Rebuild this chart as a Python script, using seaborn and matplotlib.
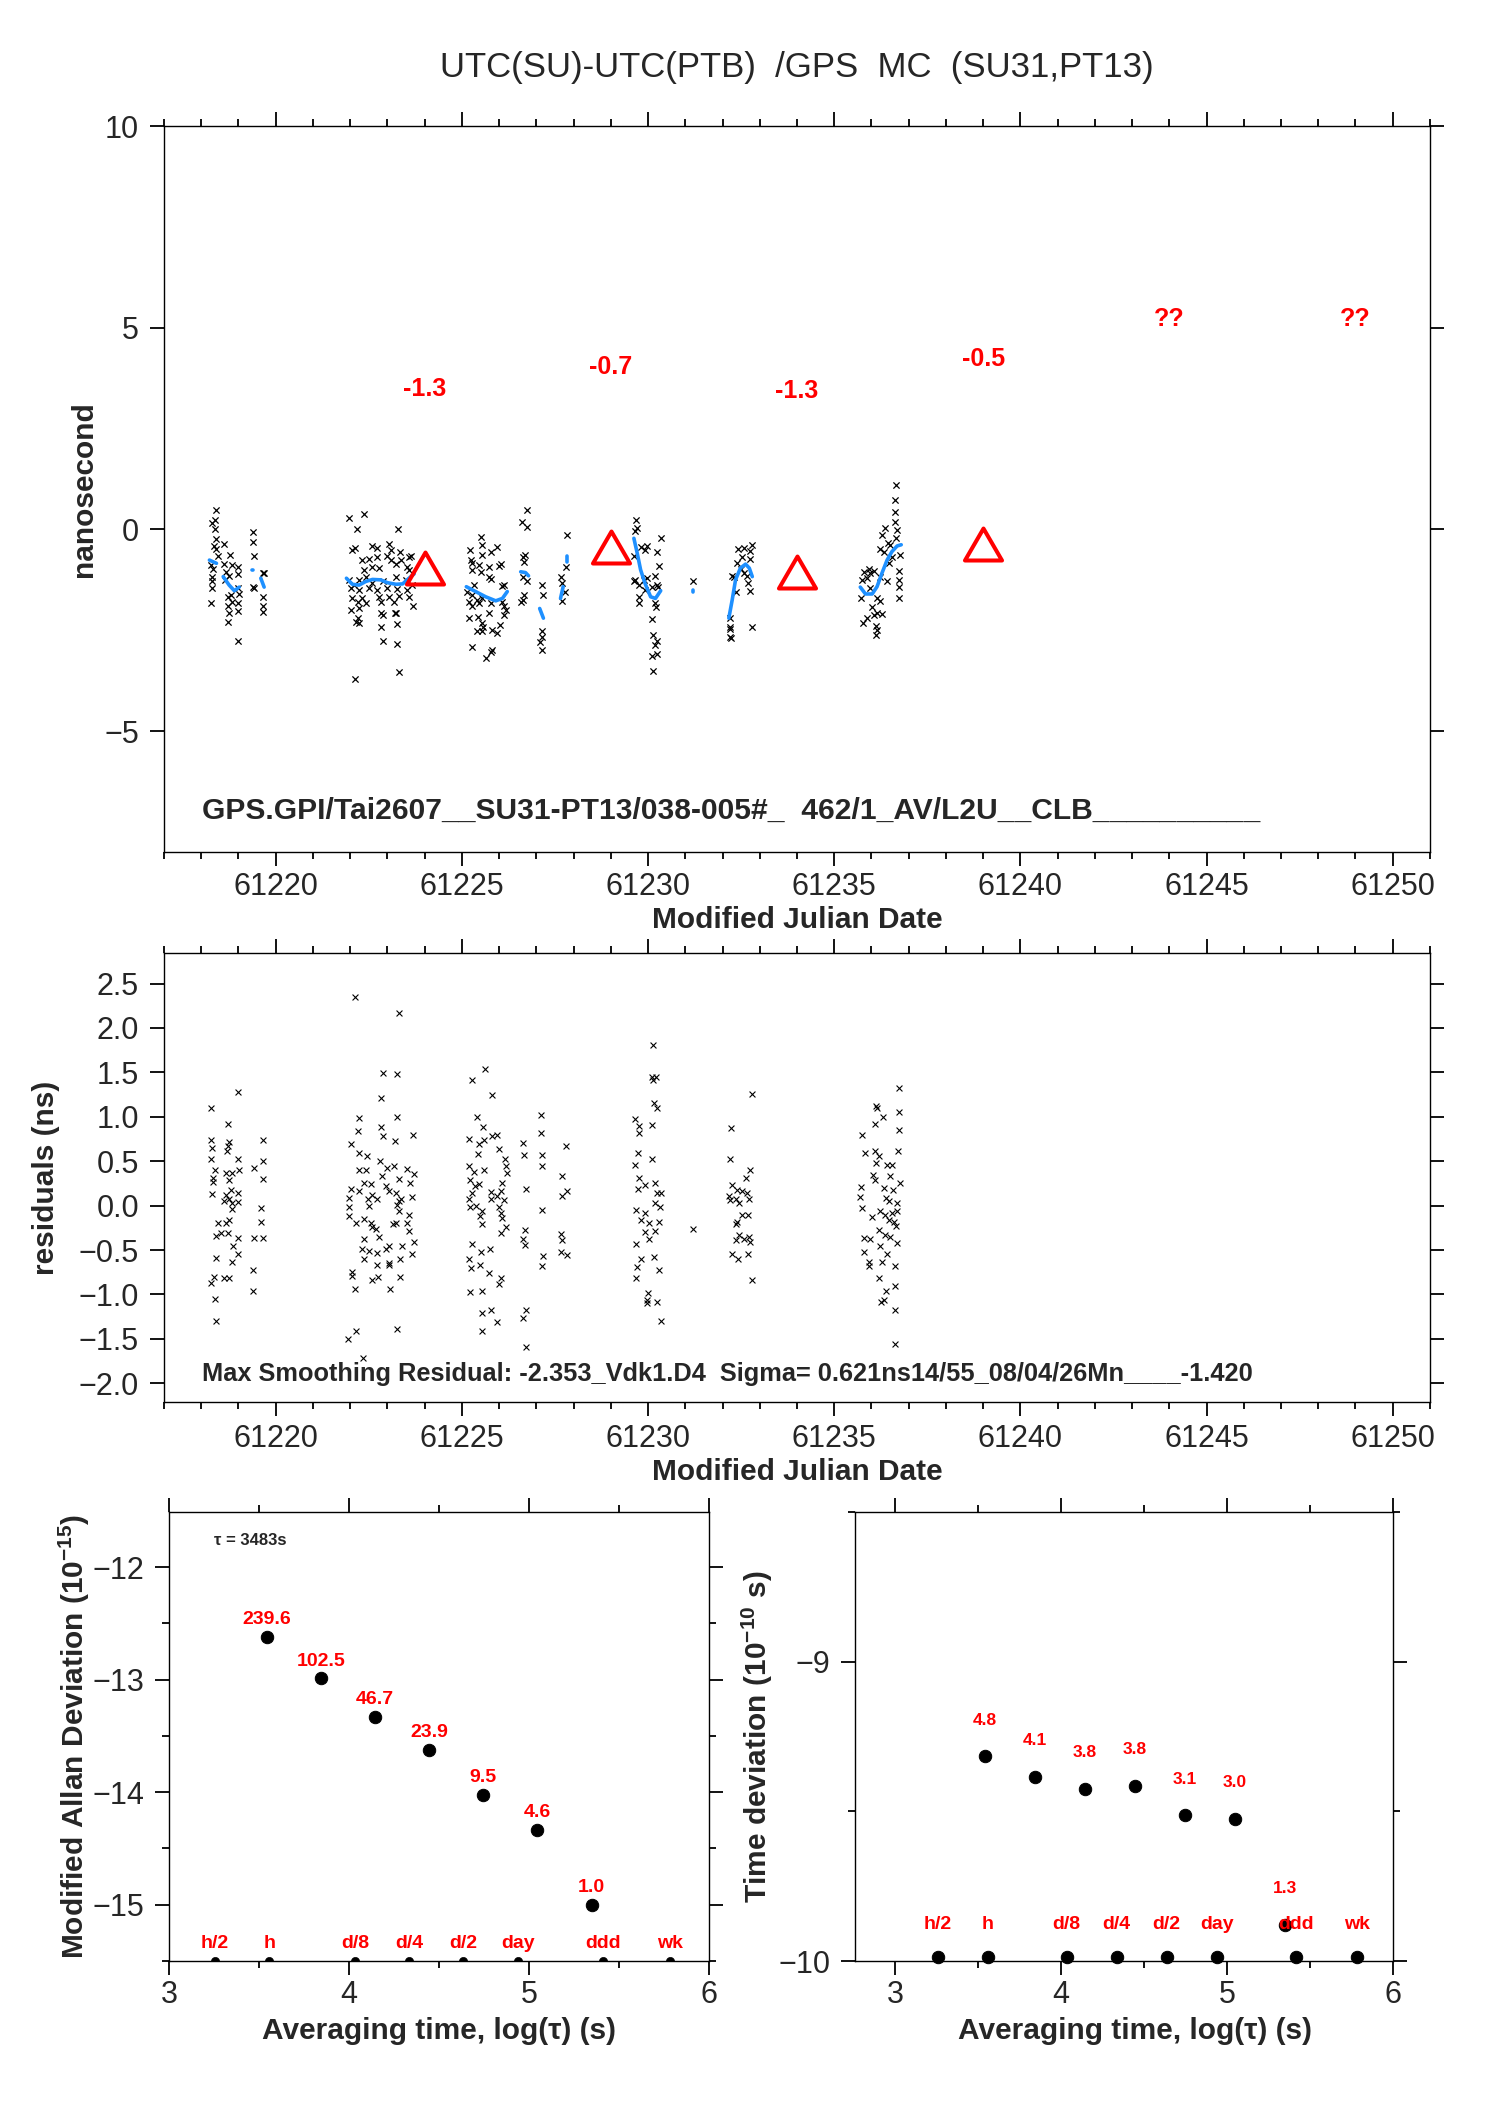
import numpy as np
import pandas as pd
import matplotlib
matplotlib.use("Agg")
import matplotlib.pyplot as plt
import seaborn as sns
from matplotlib.ticker import MultipleLocator, FuncFormatter
from matplotlib.path import Path

# ---------------------------------------------------------------- data
title_text = "UTC(SU)-UTC(PTB)  /GPS  MC  (SU31,PT13)"
info_top = "GPS.GPI/Tai2607__SU31-PT13/038-005#_  462/1_AV/L2U__CLB__________"
info_res = "Max Smoothing Residual: -2.353_Vdk1.D4  Sigma= 0.621ns14/55_08/04/26Mn____-1.420"

# observed UTC(SU)-UTC(PTB) points (MJD, ns)
obs_points = [
    (61218.40, 0.48), (61218.29, 0.15), (61218.38, 0.24), (61218.38, 0.00),
    (61218.41, -0.24), (61218.35, -0.41), (61218.40, -0.49), (61218.44, -0.66),
    (61218.26, -0.88), (61218.32, -0.99), (61218.29, -1.17), (61218.30, -1.29), (61218.29, -1.46), (61218.26, -1.83),
    (61218.62, -0.36), (61218.62, -0.86), (61218.66, -1.05), (61218.75, -1.15), (61218.65, -1.25),
    (61218.78, -0.63), (61218.84, -0.88), (61218.98, -0.94), (61219.00, -1.10),
    (61218.71, -1.67), (61218.80, -1.62), (61218.84, -1.79), (61218.71, -1.90), (61218.75, -2.08), (61218.73, -2.29),
    (61218.98, -1.83), (61219.02, -1.60), (61218.98, -2.02), (61219.00, -1.46), (61218.98, -2.77),
    (61219.40, -0.07), (61219.38, -0.30), (61219.42, -0.66), (61219.40, -1.42), (61219.42, -1.46),
    (61219.65, -1.07), (61219.69, -1.09), (61219.65, -1.67), (61219.65, -1.90), (61219.67, -2.04),
    (61221.96, 0.28), (61222.38, 0.38), (61222.18, 0.01), (61223.29, 0.02),
    (61222.06, -0.51), (61222.13, -0.47), (61222.58, -0.41), (61222.73, -0.47), (61223.05, -0.36), (61223.09, -0.52), (61223.33, -0.55), (61223.58, -0.69),
    (61222.33, -0.77), (61222.51, -0.74), (61222.73, -0.69), (61223.00, -0.66), (61223.09, -0.76), (61223.36, -0.77), (61223.63, -0.66),
    (61222.38, -1.00), (61222.60, -0.92), (61222.78, -0.96), (61223.23, -0.86), (61223.54, -0.94), (61223.58, -1.00),
    (61221.97, -1.25), (61222.11, -1.38), (61222.24, -1.25), (61222.42, -1.17), (61222.60, -1.33), (61222.87, -1.29), (61223.23, -1.17), (61223.49, -1.25), (61223.67, -1.38),
    (61222.02, -1.46), (61222.24, -1.50), (61222.51, -1.46), (61222.73, -1.50), (61223.00, -1.46), (61223.27, -1.48), (61223.54, -1.50),
    (61222.06, -1.71), (61222.33, -1.71), (61222.78, -1.67), (61223.05, -1.68), (61223.31, -1.65), (61223.58, -1.68),
    (61222.20, -1.79), (61222.42, -1.83), (61222.82, -1.79), (61223.18, -1.79),
    (61222.02, -2.00), (61222.24, -1.96), (61222.82, -2.08), (61222.87, -2.12), (61223.21, -2.06), (61223.23, -2.08), (61223.70, -1.91),
    (61222.20, -2.20), (61222.24, -2.33), (61222.15, -2.29), (61223.27, -2.34), (61222.82, -2.43),
    (61222.89, -2.76), (61223.25, -2.84), (61223.30, -3.53), (61222.13, -3.71),
    (61225.51, -0.18), (61225.53, -0.38), (61225.21, -0.51), (61225.95, -0.44), (61225.78, -0.55), (61225.55, -0.63),
    (61225.24, -0.76), (61225.28, -0.84), (61225.46, -0.88), (61225.73, -0.94), (61226.00, -0.91), (61226.04, -0.86), (61225.51, -1.05), (61225.26, -1.00),
    (61225.73, -1.19), (61225.78, -1.22), (61226.09, -1.40), (61226.13, -1.38), (61225.33, -1.38),
    (61225.15, -1.54), (61225.28, -1.62), (61225.42, -1.75), (61225.55, -1.71), (61225.18, -1.79), (61225.28, -1.91), (61225.46, -1.83),
    (61225.78, -1.83), (61226.09, -1.79), (61226.13, -1.90), (61226.18, -2.00), (61226.13, -2.12), (61225.73, -2.08),
    (61225.18, -2.20), (61225.44, -2.16), (61225.53, -2.33), (61225.57, -2.41), (61225.42, -2.53), (61225.55, -2.53), (61225.82, -2.49), (61225.94, -2.57), (61226.02, -2.37),
    (61225.28, -2.91), (61225.82, -2.99), (61225.78, -3.03), (61225.64, -3.18),
    (61226.74, 0.48), (61226.61, 0.19), (61226.74, 0.07), (61226.70, -0.63), (61226.63, -0.69), (61226.67, -0.80),
    (61226.63, -1.17), (61226.76, -1.29), (61226.67, -1.62), (61226.63, -1.75), (61226.58, -1.79),
    (61227.14, -1.38), (61227.19, -1.62), (61227.14, -2.53), (61227.16, -2.66), (61227.11, -2.78), (61227.14, -2.99),
    (61227.83, -0.14), (61227.80, -0.92), (61227.65, -1.17), (61227.68, -1.32), (61227.77, -1.54), (61227.70, -1.77),
    (61229.69, 0.24), (61229.71, 0.03), (61229.66, -0.05), (61229.62, -0.66), (61229.80, -0.43), (61229.98, -0.41), (61229.93, -0.51),
    (61230.34, -0.22), (61230.25, -0.57), (61230.29, -0.90), (61230.18, -1.15), (61230.27, -1.42), (61230.25, -1.38),
    (61229.66, -1.25), (61229.62, -1.29), (61229.75, -1.38), (61229.89, -1.25), (61229.93, -1.50), (61229.98, -1.21), (61230.11, -1.42),
    (61229.75, -1.67), (61229.77, -1.82), (61230.20, -1.82), (61230.22, -1.93), (61230.11, -2.23), (61230.13, -2.62),
    (61230.20, -2.86), (61230.25, -2.76), (61230.11, -3.14), (61230.25, -3.09), (61230.14, -3.50),
    (61231.20, -1.27),
    (61232.42, -0.49), (61232.57, -0.47), (61232.78, -0.38), (61232.73, -0.53), (61232.53, -0.69), (61232.39, -0.82), (61232.75, -0.74),
    (61232.51, -0.99), (61232.26, -1.15), (61232.30, -1.17), (61232.57, -1.09), (61232.66, -1.15), (61232.69, -1.34), (61232.75, -1.52),
    (61232.35, -1.54), (61232.21, -2.20), (61232.19, -2.41), (61232.21, -2.48), (61232.21, -2.66), (61232.24, -2.70), (61232.78, -2.41),
    (61236.66, 1.10), (61236.64, 0.72), (61236.64, 0.42), (61236.62, 0.19), (61236.69, -0.01), (61236.36, 0.03), (61236.28, -0.14),
    (61236.66, -0.22), (61236.44, -0.33), (61236.51, -0.38), (61236.24, -0.49), (61236.33, -0.57), (61236.78, -0.63), (61236.55, -0.69),
    (61236.46, -0.84), (61236.73, -1.02), (61235.93, -0.99), (61235.79, -1.05), (61235.97, -1.09), (61236.06, -1.02), (61235.75, -1.25),
    (61235.88, -1.21), (61236.24, -1.19), (61236.42, -1.29), (61236.73, -1.25), (61236.75, -1.43), (61236.73, -1.71), (61235.97, -1.46),
    (61235.73, -1.71), (61236.15, -1.71), (61236.24, -1.77), (61236.02, -1.93), (61236.06, -2.12), (61236.15, -2.08), (61236.28, -2.10),
    (61235.88, -2.20), (61235.77, -2.33), (61236.12, -2.39), (61236.15, -2.49), (61236.12, -2.62),
]

# smoothing curve pieces (MJD, ns)
smooth_segments = [
    [(61218.22, -0.76), (61218.41, -0.84)],
    [(61218.59, -1.17), (61218.75, -1.38), (61218.89, -1.52), (61219.02, -1.43)],
    [(61219.36, -1.00), (61219.40, -1.00)],
    [(61219.60, -1.21), (61219.69, -1.43)],
    [(61221.90, -1.21), (61222.06, -1.36), (61222.24, -1.38), (61222.42, -1.29), (61222.60, -1.24), (61222.82, -1.25),
     (61223.00, -1.32), (61223.23, -1.36), (61223.41, -1.35), (61223.58, -1.21), (61223.72, -1.10)],
    [(61225.12, -1.42), (61225.37, -1.54), (61225.64, -1.67), (61225.91, -1.77), (61226.09, -1.71), (61226.22, -1.54)],
    [(61226.58, -1.05), (61226.71, -1.07), (61226.79, -1.15)],
    [(61227.09, -1.96), (61227.19, -2.20)],
    [(61227.65, -1.71), (61227.72, -1.42)],
    [(61227.83, -0.67), (61227.83, -0.80)],
    [(61229.62, -0.22), (61229.71, -0.59), (61229.80, -1.00), (61229.92, -1.34), (61230.07, -1.67), (61230.20, -1.71), (61230.34, -1.52)],
    [(61231.20, -1.50), (61231.20, -1.56)],
    [(61232.17, -2.20), (61232.26, -1.75), (61232.35, -1.25), (61232.48, -0.96), (61232.62, -0.86), (61232.72, -0.96), (61232.80, -1.17)],
    [(61235.70, -1.43), (61235.84, -1.60), (61236.02, -1.60), (61236.15, -1.42), (61236.28, -1.09), (61236.42, -0.76),
     (61236.55, -0.55), (61236.69, -0.41), (61236.80, -0.38)],
]

# daily means (triangles) and their labels
tri_mjd = [61224, 61229, 61234, 61239]
tri_ns = [-1.36, -0.84, -1.44, -0.77]
daily_lab_mjd = [61224, 61229, 61234, 61239, 61244, 61249]
daily_lab_ns = [3.47, 4.03, 3.43, 4.23, 5.21, 5.21]
daily_lab_txt = ["-1.3", "-0.7", "-1.3", "-0.5", "??", "??"]

# residuals (MJD, ns)
res_points = [
    (61218.26, 1.10), (61218.98, 1.28), (61218.73, 0.92),
    (61218.26, 0.74), (61218.29, 0.65), (61218.26, 0.53), (61218.38, 0.40), (61218.32, 0.31), (61218.32, 0.27), (61218.30, 0.13),
    (61218.75, 0.72), (61218.71, 0.67), (61218.68, 0.61), (61218.98, 0.52), (61218.66, 0.37), (61218.84, 0.37), (61219.02, 0.40),
    (61218.75, 0.29), (61218.80, 0.18), (61219.00, 0.14), (61218.66, 0.12), (61218.62, 0.05), (61218.75, 0.07), (61218.84, 0.03),
    (61219.00, 0.04), (61218.84, -0.04),
    (61218.44, -0.19), (61218.66, -0.19), (61218.75, -0.16), (61218.40, -0.34), (61218.53, -0.31), (61218.71, -0.31), (61218.98, -0.36),
    (61218.86, -0.46), (61219.00, -0.55), (61218.41, -0.59), (61218.82, -0.64), (61219.38, -0.72), (61218.35, -0.80), (61218.26, -0.87),
    (61218.62, -0.81), (61218.75, -0.81), (61218.38, -1.05), (61219.40, -0.96), (61218.40, -1.30),
    (61219.42, 0.42), (61219.65, 0.74), (61219.67, 0.50), (61219.65, 0.30), (61219.60, -0.03), (61219.60, -0.18), (61219.42, -0.37), (61219.67, -0.37),
    (61222.13, 2.35), (61223.30, 2.17), (61222.87, 1.49), (61223.25, 1.48), (61222.82, 1.21),
    (61222.24, 0.99), (61223.25, 1.00), (61222.20, 0.84), (61222.82, 0.88), (61222.87, 0.78), (61223.21, 0.73), (61223.69, 0.80),
    (61222.02, 0.69), (61222.24, 0.59), (61222.44, 0.56), (61222.80, 0.50), (61223.18, 0.45), (61223.00, 0.42), (61223.54, 0.41),
    (61223.72, 0.36), (61222.24, 0.40), (61222.42, 0.40), (61222.85, 0.33), (61223.30, 0.30), (61223.61, 0.26),
    (61222.02, 0.19), (61222.24, 0.16), (61222.38, 0.25), (61222.56, 0.24), (61222.60, 0.12), (61222.96, 0.22), (61223.05, 0.16),
    (61223.23, 0.14), (61223.31, 0.05), (61223.36, 0.08), (61223.67, 0.10), (61221.96, 0.09), (61221.97, -0.01), (61222.47, 0.08),
    (61222.51, 0.00), (61222.73, 0.08), (61223.27, 0.01),
    (61221.97, -0.12), (61222.15, -0.19), (61222.38, -0.15), (61222.56, -0.20), (61222.69, -0.26), (61222.60, -0.24), (61223.14, -0.21),
    (61223.23, -0.20), (61223.31, -0.06), (61223.58, -0.11), (61223.54, -0.20), (61223.58, -0.29), (61222.38, -0.38), (61222.78, -0.35),
    (61223.72, -0.41), (61222.33, -0.49), (61222.51, -0.51), (61222.73, -0.53), (61223.03, -0.46), (61222.96, -0.49), (61223.39, -0.46),
    (61223.66, -0.55), (61222.73, -0.67), (61223.03, -0.65), (61223.05, -0.67), (61223.33, -0.60), (61222.38, -0.60),
    (61222.05, -0.75), (61222.06, -0.79), (61222.60, -0.84), (61222.76, -0.80), (61223.33, -0.80), (61222.13, -0.94), (61223.06, -0.94),
    (61221.93, -1.50), (61222.17, -1.41), (61223.27, -1.39), (61222.35, -1.71),
    (61225.62, 1.54), (61225.28, 1.42), (61225.80, 1.25), (61225.42, 1.00), (61225.57, 0.89), (61225.19, 0.75), (61225.46, 0.69),
    (61225.60, 0.74), (61225.82, 0.78), (61225.95, 0.80), (61225.44, 0.58), (61226.00, 0.64), (61226.16, 0.52), (61226.18, 0.45),
    (61226.20, 0.37), (61225.18, 0.45), (61225.33, 0.38), (61225.60, 0.40), (61225.21, 0.29), (61225.35, 0.22), (61225.46, 0.24),
    (61225.28, 0.14), (61225.18, 0.08), (61225.21, -0.01), (61225.37, 0.00), (61225.55, -0.06), (61225.78, 0.15), (61225.78, 0.07),
    (61225.95, 0.11), (61226.07, 0.26), (61226.04, 0.16), (61226.13, 0.06), (61226.00, -0.01), (61226.04, -0.08), (61226.07, -0.14),
    (61225.48, -0.12), (61225.55, -0.21), (61226.18, -0.24), (61226.04, -0.31), (61225.26, -0.43), (61225.51, -0.52), (61225.75, -0.49),
    (61225.18, -0.60), (61225.24, -0.70), (61225.48, -0.67), (61225.73, -0.76), (61226.04, -0.82), (61226.00, -0.88), (61225.21, -0.97),
    (61225.55, -0.96), (61225.53, -1.21), (61225.78, -1.18), (61225.95, -1.31), (61225.53, -1.41),
    (61226.63, 0.70), (61226.67, 0.57), (61226.72, 0.19), (61226.70, -0.27), (61226.63, -0.38), (61226.70, -0.44), (61226.73, -1.18),
    (61226.63, -1.26), (61226.72, -1.59),
    (61227.12, 1.02), (61227.12, 0.82), (61227.16, 0.57), (61227.14, 0.45), (61227.16, -0.05), (61227.18, -0.57), (61227.14, -0.68),
    (61227.79, 0.67), (61227.70, 0.33), (61227.68, 0.11), (61227.83, 0.16), (61227.65, -0.32), (61227.68, -0.39), (61227.65, -0.52), (61227.83, -0.56),
    (61230.13, 1.81), (61230.11, 1.45), (61230.22, 1.45), (61230.13, 1.41), (61230.16, 1.16), (61230.25, 1.10), (61229.65, 0.97),
    (61229.75, 0.90), (61230.11, 0.91), (61229.75, 0.82), (61229.74, 0.59), (61230.11, 0.52), (61229.65, 0.46), (61229.75, 0.31),
    (61229.91, 0.23), (61229.74, 0.19), (61230.20, 0.25), (61230.25, 0.14), (61230.34, 0.14), (61230.20, 0.03), (61230.31, -0.01),
    (61229.67, -0.05), (61229.93, -0.08), (61229.80, -0.16), (61230.02, -0.19), (61230.29, -0.18), (61229.93, -0.30), (61230.02, -0.38),
    (61230.20, -0.29), (61229.67, -0.43), (61229.80, -0.60), (61230.16, -0.58), (61229.71, -0.69), (61230.29, -0.72), (61229.68, -0.81),
    (61230.00, -0.98), (61229.98, -1.06), (61229.98, -1.10), (61230.25, -1.09), (61230.34, -1.30),
    (61231.20, -0.26),
    (61232.78, 1.26), (61232.24, 0.87), (61232.19, 0.52), (61232.75, 0.40), (61232.62, 0.31), (61232.26, 0.23), (61232.39, 0.18),
    (61232.53, 0.17), (61232.66, 0.14), (61232.17, 0.11), (61232.35, 0.07), (61232.71, 0.08), (61232.21, 0.06), (61232.44, 0.03),
    (61232.53, -0.10), (61232.69, -0.10), (61232.39, -0.18), (61232.35, -0.21), (61232.44, -0.33), (61232.35, -0.39), (61232.57, -0.38),
    (61232.72, -0.35), (61232.75, -0.41), (61232.26, -0.54), (61232.42, -0.60), (61232.69, -0.55), (61232.80, -0.84),
    (61236.73, 1.32), (61236.12, 1.12), (61236.15, 1.10), (61236.30, 1.00), (61236.10, 0.92), (61236.75, 1.05), (61236.73, 0.85),
    (61235.75, 0.79), (61236.71, 0.62), (61235.84, 0.59), (61236.10, 0.62), (61236.21, 0.56), (61236.12, 0.48), (61236.42, 0.46),
    (61236.55, 0.46), (61236.03, 0.35), (61236.10, 0.29), (61236.51, 0.33), (61236.78, 0.26), (61235.73, 0.21), (61236.33, 0.20),
    (61236.57, 0.18), (61235.70, 0.10), (61236.39, 0.09), (61236.46, 0.05), (61236.69, 0.03), (61235.75, -0.03), (61236.02, -0.13),
    (61236.24, -0.06), (61236.37, -0.11), (61236.55, -0.08), (61236.69, -0.06), (61236.46, -0.16), (61236.60, -0.18), (61236.66, -0.23),
    (61236.19, -0.27), (61236.37, -0.33), (61236.51, -0.35), (61235.79, -0.36), (61235.97, -0.38), (61236.24, -0.46), (61236.69, -0.42),
    (61235.79, -0.52), (61236.42, -0.54), (61235.93, -0.63), (61235.94, -0.68), (61236.28, -0.64), (61236.64, -0.68), (61236.19, -0.82),
    (61236.39, -0.96), (61236.64, -0.90), (61236.26, -1.08), (61236.33, -1.06), (61236.64, -1.18), (61236.64, -1.56),
]

# stability analysis
log_tau = [3.542, 3.843, 4.144, 4.445, 4.746, 5.047, 5.348]
mdev_e15 = [239.6, 102.5, 46.7, 23.9, 9.5, 4.6, 1.0]
mdev_txt = ["239.6", "102.5", "46.7", "23.9", "9.5", "4.6", "1.0"]
tdev_e10 = [4.83, 4.13, 3.77, 3.85, 3.07, 2.99, 1.32]
tdev_txt = ["4.8", "4.1", "3.8", "3.8", "3.1", "3.0", "1.3"]
ref_names = ["h/2", "h", "d/8", "d/4", "d/2", "day", "ddd", "wk"]
ref_seconds = [1800, 3600, 10800, 21600, 43200, 86400, 259200, 604800]
tau0_text = "\u03c4 = 3483s"

# ---------------------------------------------------------------- style
sns.set_style("ticks")
plt.rcParams["font.family"] = ["Liberation Sans", "DejaVu Sans"]
plt.rcParams["mathtext.fontset"] = "custom"
plt.rcParams["mathtext.rm"] = "Liberation Sans:bold"
plt.rcParams["mathtext.default"] = "rm"
plt.rcParams["axes.linewidth"] = 1.0
plt.rcParams["axes.edgecolor"] = "black"

RED = "#ff0000"
BLUE = "#1e90ff"
TICK_FS = 22
LAB_FS = 21.5

fig = plt.figure(figsize=(14.88, 21.05), dpi=100)
ax1 = fig.add_axes([0.1102, 0.5952, 0.8508, 0.3449])
ax2 = fig.add_axes([0.1102, 0.3340, 0.8508, 0.2133])
ax3 = fig.add_axes([0.1136, 0.0684, 0.3629, 0.2133])
ax4 = fig.add_axes([0.5746, 0.0684, 0.3616, 0.2133])

def style_ticks(ax, xpad=4, ypad=8):
    ax.tick_params(which="both", direction="out", top=True, right=True,
                   color="black", width=1.3, labelsize=TICK_FS)
    ax.tick_params(which="major", length=10)
    ax.tick_params(which="minor", length=5)
    ax.tick_params(axis="x", which="major", pad=xpad)
    ax.tick_params(axis="y", which="major", pad=ypad)
    for s in ax.spines.values():
        s.set_visible(True)
        s.set_linewidth(1.0)
        s.set_color("black")

minus = lambda s: s.replace("-", "\u2212")

# ---------------------------------------------------------------- panel 1
obs_df = pd.DataFrame(obs_points, columns=["mjd", "ns"])
seg_df = pd.DataFrame([(i, x, y) for i, seg in enumerate(smooth_segments) for (x, y) in seg],
                      columns=["seg", "mjd", "ns"])

sns.scatterplot(data=obs_df, x="mjd", y="ns", marker="x", color="black", s=20,
                linewidth=0.9, ax=ax1, legend=False, zorder=2)
sns.lineplot(data=seg_df, x="mjd", y="ns", units="seg", estimator=None, sort=False,
             color=BLUE, lw=2.6, ax=ax1, legend=False, zorder=3, solid_capstyle="round")

tri_path = Path([(-1.16, 0.0), (1.16, 0.0), (0.0, 2.0), (-1.16, 0.0)], closed=True)
ax1.plot(tri_mjd, tri_ns, linestyle="none", marker=tri_path, markersize=46,
         markerfacecolor="none", markeredgecolor=RED, markeredgewidth=2.9, zorder=4)
for x, y, t in zip(daily_lab_mjd, daily_lab_ns, daily_lab_txt):
    ax1.text(x, y, t, color=RED, fontsize=18, fontweight="bold", ha="center", va="center")

ax1.set_xlim(61217.0, 61251.0)
ax1.set_ylim(-8, 10)
ax1.xaxis.set_major_locator(MultipleLocator(5))
ax1.xaxis.set_minor_locator(MultipleLocator(1))
ax1.yaxis.set_major_locator(MultipleLocator(5))
ax1.xaxis.set_major_formatter(FuncFormatter(lambda v, p: f"{v:.0f}"))
style_ticks(ax1)
ax1.set_xlabel("Modified Julian Date", fontsize=LAB_FS, fontweight="bold", va="center")
ax1.xaxis.set_label_coords(0.5, -0.0937)
ax1.set_ylabel("nanosecond", fontsize=LAB_FS, fontweight="bold", va="center")
ax1.yaxis.set_label_coords(-0.0632, 0.5)
ax1.text(0.030, 0.0463, info_top, transform=ax1.transAxes, fontsize=21.6,
         fontweight="bold", ha="left", va="baseline")

# ---------------------------------------------------------------- panel 2
res_df = pd.DataFrame(res_points, columns=["mjd", "ns"])
sns.scatterplot(data=res_df, x="mjd", y="ns", marker="x", color="black", s=18,
                linewidth=0.8, ax=ax2, legend=False)
ax2.set_xlim(61217.0, 61251.0)
ax2.set_ylim(-2.21, 2.845)
ax2.xaxis.set_major_locator(MultipleLocator(5))
ax2.xaxis.set_minor_locator(MultipleLocator(1))
ax2.yaxis.set_major_locator(MultipleLocator(0.5))
ax2.xaxis.set_major_formatter(FuncFormatter(lambda v, p: f"{v:.0f}"))
ax2.yaxis.set_major_formatter(FuncFormatter(lambda v, p: minus(f"{v:.1f}")))
style_ticks(ax2, xpad=6)
ax2.set_xlabel("Modified Julian Date", fontsize=LAB_FS, fontweight="bold", va="center")
ax2.xaxis.set_label_coords(0.5, -0.156)
ax2.set_ylabel("residuals (ns)", fontsize=LAB_FS, fontweight="bold", va="center")
ax2.yaxis.set_label_coords(-0.0932, 0.5)
ax2.text(0.030, 0.0468, info_res, transform=ax2.transAxes, fontsize=18.3,
         fontweight="bold", ha="left", va="baseline")

# ---------------------------------------------------------------- panel 3
ref_log = list(np.log10(ref_seconds))
mdev_df = pd.DataFrame({"logtau": log_tau, "logmdev": np.log10(np.array(mdev_e15) * 1e-15)})
sns.scatterplot(data=mdev_df, x="logtau", y="logmdev", color="black", edgecolor="black",
                s=80, ax=ax3, legend=False, zorder=3)
ax3.set_xlim(3, 6)
ax3.set_ylim(-15.5, -11.51)
ref3_df = pd.DataFrame({"x": ref_log, "y": [-15.5] * len(ref_log)})
sns.scatterplot(data=ref3_df, x="x", y="y", color="black", edgecolor="black", s=35,
                ax=ax3, legend=False, zorder=3)
for x, y, t in zip(mdev_df["logtau"], mdev_df["logmdev"], mdev_txt):
    ax3.annotate(t, (x, y), xytext=(0, 12.5), textcoords="offset points", ha="center",
                 va="center", color=RED, fontsize=14, fontweight="bold")
for x, t in zip(ref_log, ref_names):
    ax3.annotate(t, (x, -15.5), xytext=(0, 12.5), textcoords="offset points", ha="center",
                 va="center", color=RED, fontsize=14, fontweight="bold")
ax3.text(0.083, 0.9365, tau0_text, transform=ax3.transAxes, fontsize=12,
         fontweight="bold", ha="left", va="center")
ax3.xaxis.set_major_locator(MultipleLocator(1))
ax3.xaxis.set_minor_locator(MultipleLocator(0.5))
ax3.yaxis.set_major_locator(MultipleLocator(1))
ax3.yaxis.set_minor_locator(MultipleLocator(0.5))
style_ticks(ax3)
ax3.set_xlabel("Averaging time, log(\u03c4) (s)", fontsize=LAB_FS, fontweight="bold", va="center")
ax3.xaxis.set_label_coords(0.5, -0.156)
ax3.set_ylabel(r"Modified Allan Deviation (10$^{-15}$)", fontsize=LAB_FS, fontweight="bold", va="center")
ax3.yaxis.set_label_coords(-0.176, 0.5)

# ---------------------------------------------------------------- panel 4
tdev_df = pd.DataFrame({"logtau": log_tau, "logtdev": np.log10(np.array(tdev_e10) * 1e-10)})
sns.scatterplot(data=tdev_df, x="logtau", y="logtdev", color="black", edgecolor="black",
                s=80, ax=ax4, legend=False, zorder=3)
ax4.set_xlim(2.757, 6.0)
ax4.set_ylim(-10.0, -8.5)
ref4_df = pd.DataFrame({"x": ref_log, "y": [-9.988] * len(ref_log)})
sns.scatterplot(data=ref4_df, x="x", y="y", color="black", edgecolor="black", s=80,
                ax=ax4, legend=False, zorder=3, clip_on=False)
for x, y, t in zip(tdev_df["logtau"], tdev_df["logtdev"], tdev_txt):
    ax4.annotate(t, (x, y), xytext=(0, 26), textcoords="offset points", ha="center",
                 va="center", color=RED, fontsize=12.5, fontweight="bold")
for x, t in zip(ref_log, ref_names):
    ax4.annotate(t, (x, -9.988), xytext=(0, 24), textcoords="offset points", ha="center",
                 va="center", color=RED, fontsize=14, fontweight="bold")
ax4.xaxis.set_major_locator(MultipleLocator(1))
ax4.xaxis.set_minor_locator(MultipleLocator(0.5))
ax4.yaxis.set_major_locator(MultipleLocator(1))
ax4.yaxis.set_minor_locator(MultipleLocator(0.5))
style_ticks(ax4)
ax4.set_xlabel("Averaging time, log(\u03c4) (s)", fontsize=LAB_FS, fontweight="bold", va="center")
ax4.xaxis.set_label_coords(0.52, -0.156)
ax4.set_ylabel(r"Time deviation (10$^{-10}$ s)", fontsize=LAB_FS, fontweight="bold", va="center")
ax4.yaxis.set_label_coords(-0.182, 0.5)

fig.text(0.5356, 0.9679, title_text, ha="center", va="center", fontsize=25)

fig.savefig("out.png", dpi=100, facecolor="white")
